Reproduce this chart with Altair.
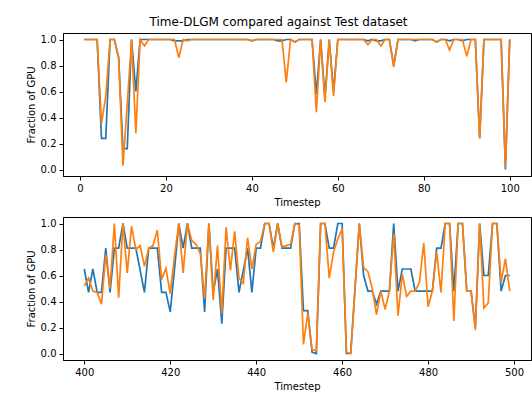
import altair as alt
import pandas as pd

# ---------------- data ----------------
top_steps = list(range(1, 101))
top_blue = [
    1, 1, 1, 1, 0.24, 0.24, 1, 1, 0.86, 0.16,
    0.16, 1, 0.6, 1, 1, 1, 1, 1, 1, 1,
    1, 0.99, 0.99, 0.99, 1, 1, 1, 1, 1, 1,
    1, 1, 1, 1, 1, 1, 1, 1, 1, 0.99,
    1, 1, 1, 1, 1, 0.99, 0.99, 1, 1, 0.98,
    1, 1, 1, 1, 0.58, 1, 0.55, 1, 0.6, 1,
    1, 1, 1, 1, 1, 1, 0.99, 1, 0.99, 0.99,
    1, 1, 0.8, 1, 1, 1, 1, 0.99, 1, 1,
    1, 1, 0.98, 1, 1, 0.99, 1, 1, 0.99, 1,
    1, 1, 0.24, 1, 1, 1, 1, 1, 0.0, 1,
]
top_orange = [
    1, 1, 1, 1, 0.355, 0.56, 1, 1, 0.86, 0.03,
    0.5, 1, 0.28, 1, 0.95, 1, 1, 1, 1, 1,
    1, 1, 0.86, 1, 0.99, 1, 1, 1, 1, 1,
    1, 1, 1, 1, 1, 1, 1, 1, 1, 0.99,
    1, 1, 1, 1, 1, 1, 1, 0.67, 1, 0.98,
    1, 1, 1, 1, 0.44, 1, 0.52, 1, 0.565, 1,
    1, 1, 1, 1, 1, 1, 0.96, 1, 1, 0.95,
    1, 1, 0.79, 1, 1, 1, 1, 1, 1, 1,
    1, 1, 0.98, 1, 1, 0.92, 1, 1, 1, 0.87,
    1, 1, 0.24, 1, 1, 1, 1, 1, 0.02, 1,
]

bottom_steps = list(range(400, 500))
bottom_blue = [
    0.65, 0.47, 0.65, 0.47, 0.47, 0.81, 0.47, 0.81, 0.81, 1.0,
    0.81, 0.81, 0.81, 0.64, 0.47, 0.81, 0.81, 0.81, 0.47, 0.47,
    0.32, 0.65, 1.0, 0.81, 1.0, 0.81, 0.81, 0.81, 0.32, 1.0,
    0.47, 0.65, 0.23, 0.81, 0.81, 0.81, 0.47, 0.64, 0.81, 0.47,
    0.81, 0.81, 1.0, 1.0, 0.81, 1.0, 0.81, 0.81, 0.81, 1.0,
    1.0, 0.33, 0.33, 0.01, 0.0, 1.0, 1.0, 0.81, 0.81, 1.0,
    1.0, 0.0, 0.0, 0.5, 1.0, 0.6, 0.48, 0.48, 0.38, 0.48,
    0.48, 0.48, 1.0, 0.48, 0.65, 0.65, 0.65, 0.48, 0.48, 0.48,
    0.48, 0.48, 0.81, 0.81, 1.0, 1.0, 0.48, 1.0, 1.0, 0.48,
    0.48, 0.2, 1.0, 0.6, 0.6, 1.0, 1.0, 0.48, 0.6, 0.6,
]
bottom_orange = [
    0.52, 0.58, 0.48, 0.47, 0.38, 0.76, 0.5, 1.0, 0.43, 1.0,
    0.62, 0.98, 0.8, 0.83, 0.67, 0.81, 0.83, 0.95, 0.57, 0.655,
    0.46, 0.75, 1.0, 0.62, 1.0, 0.87, 0.84, 0.77, 0.42, 1.0,
    0.41, 0.83, 0.31, 0.97, 0.64, 0.94, 0.58, 0.54, 0.89, 0.65,
    0.84, 0.86, 1.0, 1.0, 0.78, 1.0, 0.82, 0.83, 0.84, 1.0,
    0.99, 0.07, 0.31, 0.03, 0.02, 1.0, 1.0, 0.58, 0.78, 0.88,
    0.96, 0.01, 0.0, 0.5, 1.0, 0.66, 0.63, 0.5, 0.3, 0.48,
    0.34, 0.48, 0.92, 0.29, 0.61, 0.44, 0.48, 0.48, 0.55, 0.85,
    0.36, 0.48, 0.78, 0.47, 1.0, 1.0, 0.25, 1.0, 1.0, 0.48,
    0.48, 0.18, 1.0, 0.35, 0.39, 1.0, 1.0, 0.55, 0.73, 0.48,
]

top_ticks = [0, 20, 40, 60, 80, 100]
bottom_ticks = [400, 420, 440, 460, 480, 500]
y_ticks = [0.0, 0.2, 0.4, 0.6, 0.8, 1.0]

BLUE = "#1f77b4"
ORANGE = "#ff7f0e"


def panel(steps, blue, orange, x_domain, x_ticks):
    df = pd.DataFrame({"Timestep": steps, "real": blue, "gen": orange})
    x = alt.X(
        "Timestep:Q",
        scale=alt.Scale(domain=x_domain, nice=False, zero=False),
        axis=alt.Axis(values=x_ticks, format="d", title="Timestep"),
    )
    yscale = alt.Scale(domain=[-0.05, 1.05], nice=False)
    yaxis = alt.Axis(values=y_ticks, format=".1f", title="Fraction of GPU")
    base = alt.Chart(df)
    l1 = base.mark_line(color=BLUE, strokeWidth=1.7).encode(
        x=x, y=alt.Y("real:Q", scale=yscale, axis=yaxis)
    )
    l2 = base.mark_line(color=ORANGE, strokeWidth=1.7).encode(
        x=x, y=alt.Y("gen:Q", scale=yscale, axis=yaxis)
    )
    return alt.layer(l1, l2).properties(width=468, height=143)


top = panel(top_steps, top_blue, top_orange, [-3.95, 104.95], top_ticks)
bottom = panel(bottom_steps, bottom_blue, bottom_orange, [395.05, 503.95], bottom_ticks)

chart = (
    alt.vconcat(top, bottom, spacing=8)
    .properties(
        title=alt.TitleParams(
            "Time-DLGM compared against Test dataset",
            anchor="middle",
            fontSize=12,
            fontWeight="normal",
            font="DejaVu Sans",
            color="black",
            offset=4,
        ),
        padding={"left": 25, "top": 15, "right": 0, "bottom": 0},
    )
    .configure_view(stroke="black", strokeWidth=1)
    .configure_axis(
        grid=False,
        domainColor="black",
        tickColor="black",
        tickSize=4,
        labelPadding=3,
        labelFont="DejaVu Sans",
        labelFontSize=10,
        labelColor="black",
        titleFont="DejaVu Sans",
        titleFontSize=10,
        titleFontWeight="normal",
        titleColor="black",
        titlePadding=4,
    )
)

chart.save("out.html", embed_options={"renderer": "svg", "actions": False})
